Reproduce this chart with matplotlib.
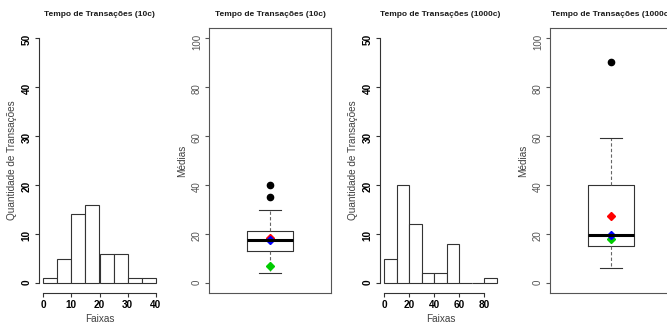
import numpy as np
import matplotlib
matplotlib.use("Agg")
import matplotlib.pyplot as plt

plt.rcParams["font.family"] = ["Liberation Sans", "DejaVu Sans"]

# Histogram data (10c)
bins_10c = [0, 5, 10, 15, 20, 25, 30, 35, 40]
counts_10c = [1, 5, 14, 16, 6, 6, 1, 1]

# Histogram data (1000c)
bins_1000c = [0, 10, 20, 30, 40, 50, 60, 70, 80, 90]
counts_1000c = [5, 20, 12, 2, 2, 8, 0, 0, 1]

# Boxplot summaries: [whislo, q1, med, q3, whishi]
box_10c = [4, 13, 17.4, 21.2, 30]
fliers_10c = [35.3, 40]
box_1000c = [6, 15, 19.7, 40, 59]
fliers_1000c = [90]

# Extra markers on the boxplots (red, green, blue diamonds)
marks_10c = {"red": 18.3, "#00cc00": 7.1, "blue": 17.4}
marks_1000c = {"red": 27.5, "#00cc00": 18.0, "blue": 19.7}

title_10c = "Tempo de Transações (10c)"
title_1000c = "Tempo de Transações (1000c)"

W, H = 667, 328
fig = plt.figure(figsize=(W / 100, H / 100), dpi=100)

LABEL_COL = "#404040"
LINE_COL = "#333333"


def panel(x0):
    return fig.add_axes([x0 / W, 35 / H, 122 / W, 265 / H])


def decorate(ax, title, ylabel):
    ax.text(0.5, 1.05, title, transform=ax.transAxes, ha="center", va="center",
            fontsize=6.0, fontweight="bold", color="#1a1a1a")
    ax.text(-0.22, 0.5, ylabel, transform=ax.transAxes, rotation=90,
            ha="center", va="center", fontsize=7.2, color=LABEL_COL)


def histogram(ax, bins, counts, xticks, title):
    bins = np.array(bins)
    ax.bar(bins[:-1], counts, width=np.diff(bins), align="edge",
           color="white", edgecolor=LINE_COL, linewidth=0.8)
    span = bins[-1] - bins[0]
    ax.set_xlim(bins[0] - 0.04 * span, bins[-1] + 0.04 * span)
    ax.set_ylim(-2, 52)
    ax.set_xticks(xticks)
    ax.set_yticks(range(0, 51, 10))
    for s in ("top", "right"):
        ax.spines[s].set_visible(False)
    ax.spines["left"].set_bounds(0, 50)
    ax.spines["bottom"].set_bounds(xticks[0], xticks[-1])
    for s in ("left", "bottom"):
        ax.spines[s].set_color(LINE_COL)
        ax.spines[s].set_linewidth(0.8)
    ax.tick_params(length=3.1, width=0.8, color=LINE_COL, pad=2, labelsize=7.2)
    ax.tick_params(axis="y", labelrotation=90)
    for lab in ax.get_xticklabels() + ax.get_yticklabels():
        lab.set_fontweight("bold")
        lab.set_color("black")
    ax.text(0.5, -0.10, "Faixas", transform=ax.transAxes, ha="center",
            va="center", fontsize=7.2, color=LABEL_COL)
    decorate(ax, title, "Quantidade de Transações")


def boxplot(ax, box, fliers, marks, title):
    stats = [dict(whislo=box[0], q1=box[1], med=box[2], q3=box[3],
                  whishi=box[4], fliers=fliers)]
    ax.bxp(stats, positions=[1], widths=0.4, capwidths=0.2, manage_ticks=False,
           boxprops=dict(color=LINE_COL, linewidth=0.8),
           medianprops=dict(color="black", linewidth=2.2),
           whiskerprops=dict(color="#666666", linewidth=0.8, linestyle=(0, (3, 2))),
           capprops=dict(color=LINE_COL, linewidth=0.8),
           flierprops=dict(marker="o", markerfacecolor="black",
                           markeredgecolor="black", markersize=4.5))
    for col, val in marks.items():
        ax.plot([1], [val], marker="D", color=col, markersize=4.2, linestyle="none")
    ax.set_xlim(0.46, 1.54)
    ax.set_ylim(-4, 104)
    ax.set_xticks([])
    ax.set_yticks(range(0, 101, 20))
    for s in ax.spines.values():
        s.set_color("#555555")
        s.set_linewidth(0.8)
    ax.tick_params(axis="y", length=3.1, width=0.8, color="#555555", pad=2,
                   labelsize=7.0, labelcolor="#555555", labelrotation=90)
    decorate(ax, title, "Médias")


histogram(panel(38.5), bins_10c, counts_10c, [0, 10, 20, 30, 40], title_10c)
boxplot(panel(209), box_10c, fliers_10c, marks_10c, title_10c)
histogram(panel(379.5), bins_1000c, counts_1000c, [0, 20, 40, 60, 80], title_1000c)
boxplot(panel(550), box_1000c, fliers_1000c, marks_1000c, title_1000c)

fig.savefig("out.png", dpi=100)
